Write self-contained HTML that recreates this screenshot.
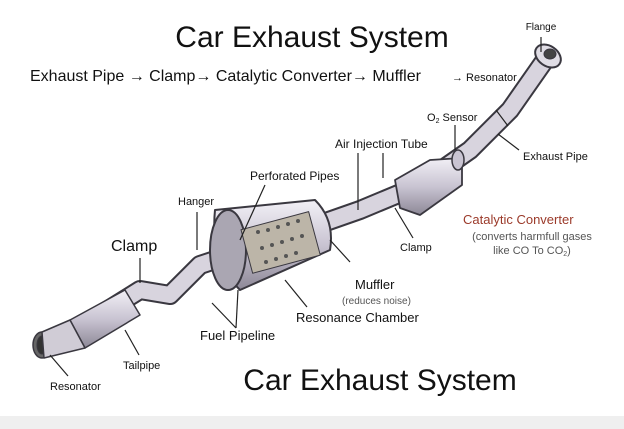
<!DOCTYPE html>
<html><head><meta charset="utf-8"><style>
html,body{margin:0;padding:0;background:#fff}
svg{display:block}
text{font-family:"Liberation Sans",sans-serif;fill:#111}
</style></head><body>
<svg width="624" height="429" viewBox="0 0 624 429">
<defs>
<linearGradient id="m" x1="0" y1="0" x2="0" y2="1">
<stop offset="0" stop-color="#f2f0f6"/><stop offset="0.5" stop-color="#c9c4d2"/><stop offset="1" stop-color="#8d8897"/>
</linearGradient>
</defs>
<rect x="0" y="0" width="624" height="429" fill="#fff"/>
<rect x="0" y="416" width="624" height="13" fill="#efefef"/>
<!-- pipe path -->
<g stroke="#3a3840" stroke-linejoin="round" stroke-linecap="round">
<path d="M60,340 L140,290 L170,295 L200,265 L260,245 L360,210 L420,185 L470,150 L510,110 L545,60" fill="none" stroke-width="20"/>
<path d="M60,340 L140,290 L170,295 L200,265 L260,245 L360,210 L420,185 L470,150 L510,110 L545,60" fill="none" stroke="#d8d4de" stroke-width="16"/>
<!-- tail canister -->
<path d="M70,320 L125,290 L140,315 L85,348 Z" fill="url(#m)" stroke-width="1.5"/>
<ellipse cx="42" cy="345" rx="9" ry="13" fill="#666" stroke-width="1.5"/>
<ellipse cx="42" cy="345" rx="5" ry="9" fill="#333"/>
<path d="M42,332 L70,320 L85,348 L44,358 Z" fill="#d0ccd6" stroke-width="1.5"/>
<!-- muffler -->
<path d="M215,210 L315,200 Q335,220 330,250 L240,290 Q210,260 215,210 Z" fill="url(#m)" stroke-width="2"/>
<ellipse cx="228" cy="250" rx="18" ry="40" fill="#aaa6b2" stroke-width="2"/>
<rect x="245" y="220" width="70" height="45" fill="#bcb5a8" stroke-width="1" transform="rotate(-15 280 240)"/>
<g fill="#555" stroke="none">
<circle cx="258" cy="232" r="2"/><circle cx="268" cy="230" r="2"/><circle cx="278" cy="227" r="2"/><circle cx="288" cy="224" r="2"/><circle cx="298" cy="221" r="2"/>
<circle cx="262" cy="248" r="2"/><circle cx="272" cy="245" r="2"/><circle cx="282" cy="242" r="2"/><circle cx="292" cy="239" r="2"/><circle cx="302" cy="236" r="2"/>
<circle cx="266" cy="262" r="2"/><circle cx="276" cy="259" r="2"/><circle cx="286" cy="256" r="2"/><circle cx="296" cy="253" r="2"/>
</g>
<!-- converter -->
<path d="M395,180 L430,160 L462,158 L462,185 L420,215 L400,208 Z" fill="url(#m)" stroke-width="1.8"/>
<ellipse cx="458" cy="160" rx="6" ry="10" fill="#c9c4d2" stroke-width="1.5"/>
<!-- flange -->
<ellipse cx="548" cy="56" rx="14" ry="10" transform="rotate(35 548 56)" fill="#e0dde5" stroke-width="2"/>
<ellipse cx="550" cy="54" rx="6" ry="5" fill="#444"/>
</g>
<!-- leader lines -->
<g stroke="#222" stroke-width="1.2" fill="none">
<line x1="541" y1="37" x2="541" y2="52"/><line x1="496" y1="110" x2="508" y2="126"/>
<line x1="455" y1="125" x2="455" y2="150"/><line x1="519" y1="150" x2="498" y2="134"/>
<line x1="358" y1="153" x2="358" y2="210"/><line x1="383" y1="153" x2="383" y2="178"/>
<line x1="265" y1="185" x2="240" y2="240"/><line x1="197" y1="212" x2="197" y2="250"/>
<line x1="413" y1="238" x2="395" y2="208"/><line x1="350" y1="262" x2="330" y2="240"/>
<line x1="307" y1="307" x2="285" y2="280"/><line x1="236" y1="328" x2="212" y2="303"/><line x1="236" y1="328" x2="238" y2="290"/>
<line x1="140" y1="258" x2="140" y2="283"/><line x1="139" y1="355" x2="125" y2="330"/><line x1="68" y1="376" x2="50" y2="355"/>
</g>
<text x="312" y="47" font-size="30" text-anchor="middle">Car Exhaust System</text>
<text x="30" y="81" font-size="16">Exhaust Pipe → Clamp→ Catalytic Converter→ Muffler</text>
<text x="452" y="81" font-size="11">→ Resonator</text>
<text x="541" y="30" font-size="10" text-anchor="middle">Flange</text>
<text x="427" y="121" font-size="11">O<tspan font-size="7" dy="2">2</tspan><tspan dy="-2"> Sensor</tspan></text>
<text x="523" y="160" font-size="11">Exhaust Pipe</text>
<text x="335" y="148" font-size="12">Air Injection Tube</text>
<text x="250" y="180" font-size="12">Perforated Pipes</text>
<text x="178" y="205" font-size="11">Hanger</text>
<text x="463" y="224" font-size="13" style="fill:#9b3a2a">Catalytic Converter</text>
<text x="532" y="240" font-size="11" text-anchor="middle" style="fill:#555">(converts harmfull gases</text>
<text x="532" y="254" font-size="11" text-anchor="middle" style="fill:#555">like CO To CO<tspan font-size="7" dy="2">2</tspan><tspan dy="-2">)</tspan></text>
<text x="400" y="251" font-size="11">Clamp</text>
<text x="111" y="251" font-size="16">Clamp</text>
<text x="355" y="289" font-size="13">Muffler</text>
<text x="342" y="304" font-size="10" style="fill:#555">(reduces noise)</text>
<text x="296" y="322" font-size="13">Resonance Chamber</text>
<text x="200" y="340" font-size="13">Fuel Pipeline</text>
<text x="123" y="369" font-size="11">Tailpipe</text>
<text x="50" y="390" font-size="11">Resonator</text>
<text x="380" y="390" font-size="30" text-anchor="middle">Car Exhaust System</text>
</svg>
</body></html>
